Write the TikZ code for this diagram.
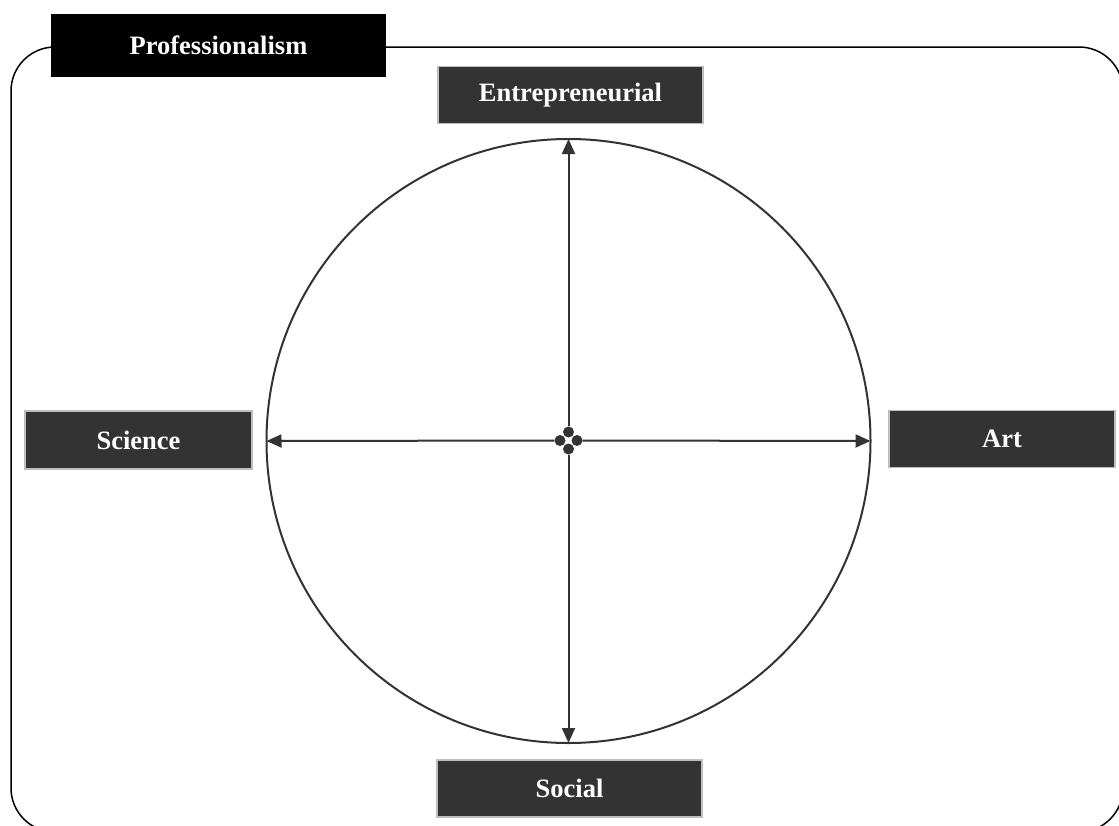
\documentclass[tikz,border=0pt]{standalone}
\usepackage{fontspec}
\setmainfont{Liberation Serif}
\usetikzlibrary{arrows.meta}
\definecolor{boxgray}{RGB}{51,51,51}
\definecolor{edgegray}{RGB}{190,190,190}
\begin{document}
\begin{tikzpicture}[x=1pt,y=-1pt]
    \tikzstyle{every node}+=[inner sep=0pt]
    \tikzstyle{pole}=[draw=edgegray, fill=boxgray, line width=1.2pt, text=white, font=\fontsize{26.5}{30}\selectfont\bfseries, minimum height=57pt]
    \tikzstyle{axis}=[boxgray, line width=2pt, -{Triangle[length=15pt,width=13pt]}]
    \tikzstyle{hub}=[circle, fill=boxgray, minimum size=11pt]
    \useasboundingbox (0,0) rectangle (1119,825);
    \draw [black, line width=1.5pt, rounded corners=44pt] (11,47) rectangle (1123,832);
    \node [pole, fill=black, draw=black, minimum width=333pt, minimum height=61pt] (prof) at (218.5,45.5) {Professionalism};
    \node [pole, minimum width=265pt] (entre) at (570.5,95) {Entrepreneurial};
    \node [pole, minimum width=226pt] (art) at (1002,439) {Art};
    \node [pole, minimum width=227pt, minimum height=58pt] (science) at (138.5,440) {Science};
    \node [pole, minimum width=265pt] (social) at (569.5,788.5) {Social};
    \draw [boxgray, line width=2pt] (568.5,441) circle (302pt);
    \coordinate (n) at (568.5,139);
    \coordinate (s) at (568.5,743);
    \coordinate (w) at (266.5,441);
    \coordinate (e) at (870.5,441);
    \node [hub] (hn) at (568.5,432) {};
    \node [hub] (hs) at (568.5,449) {};
    \node [hub] (hw) at (560,440.5) {};
    \node [hub] (he) at (577,440.5) {};
    \draw [axis] (hn) -- (n);
    \draw [axis] (hs) -- (s);
    \draw [axis] (hw) -- (w);
    \draw [axis] (he) -- (e);
\end{tikzpicture}
\end{document}
